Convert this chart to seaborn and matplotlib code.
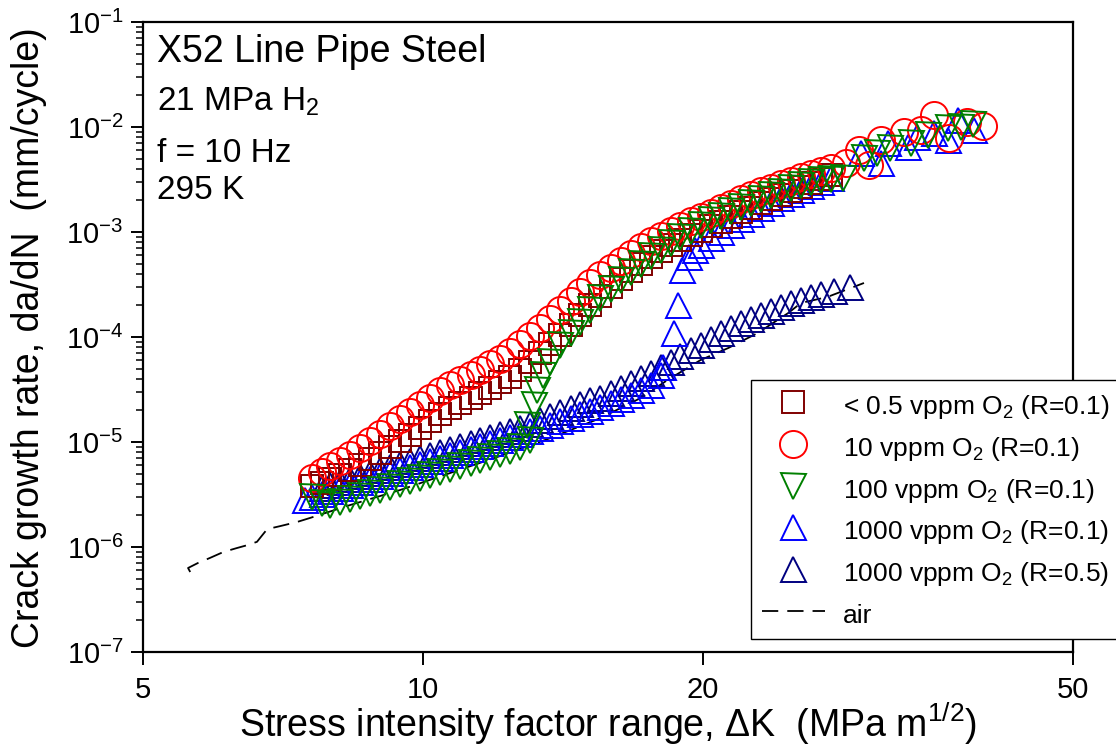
import matplotlib
matplotlib.use('Agg')
import matplotlib.pyplot as plt
import seaborn as sns
from matplotlib.ticker import FixedLocator, FixedFormatter, NullLocator, NullFormatter, LogLocator

# ---- data (dK in MPa m^1/2, da/dN in mm/cycle) ----
dk_05 = [7.60, 7.79, 7.95, 8.15, 8.35, 8.56, 8.78, 9.00, 9.22, 9.45, 9.69, 9.93, 10.18, 10.44, 10.70,
         10.97, 11.25, 11.53, 11.82, 12.11, 12.42, 12.73, 13.05, 13.37, 13.71, 14.05, 14.41, 14.77,
         15.14, 15.52, 15.91, 16.31, 16.72, 17.14, 17.57, 18.01, 18.46, 18.92, 19.40, 19.89, 20.39,
         20.90, 21.42, 21.96, 22.51, 23.07, 23.65, 24.25, 24.86, 25.48, 26.12, 26.78, 27.45]
da_05 = [3.81e-6, 4.07e-6, 4.45e-6, 4.85e-6, 5.41e-6, 6.04e-6, 6.89e-6, 7.85e-6, 8.96e-6, 1.02e-5,
         1.17e-5, 1.36e-5, 1.58e-5, 1.85e-5, 2.11e-5, 2.35e-5, 2.62e-5, 2.93e-5, 3.27e-5, 3.73e-5,
         4.16e-5, 4.85e-5, 5.78e-5, 7.05e-5, 8.57e-5, 1.04e-4, 1.30e-4, 1.62e-4, 2.02e-4, 2.46e-4,
         2.99e-4, 3.56e-4, 4.25e-4, 4.96e-4, 5.78e-4, 6.59e-4, 7.52e-4, 8.39e-4, 9.36e-4, 1.02e-3,
         1.14e-3, 1.25e-3, 1.39e-3, 1.55e-3, 1.69e-3, 1.89e-3, 2.06e-3, 2.25e-3, 2.45e-3, 2.68e-3,
         2.93e-3, 3.20e-3, 3.49e-3]

dk_10 = [7.60, 7.79, 7.95, 8.15, 8.35, 8.56, 8.78, 9.00, 9.22, 9.45, 9.69, 9.93, 10.18, 10.44, 10.70,
         10.97, 11.25, 11.53, 11.82, 12.11, 12.42, 12.73, 13.05, 13.37, 13.71, 14.05, 14.41, 14.77,
         15.14, 15.52, 15.91, 16.31, 16.72, 17.14, 17.57, 18.01, 18.46, 18.92, 19.40, 19.89, 20.39,
         20.90, 21.42, 21.96, 22.51, 23.07, 23.65, 24.25, 24.86, 25.48, 26.12, 26.78, 27.45,
         28.5, 29.4, 30.2, 31.1, 32.9, 34.3, 35.4, 36.8, 38.5, 40.0]
da_10 = [4.54e-6, 5.18e-6, 5.91e-6, 6.59e-6, 7.52e-6, 8.77e-6, 1.02e-5, 1.19e-5, 1.42e-5, 1.66e-5,
         1.93e-5, 2.25e-5, 2.62e-5, 3.06e-5, 3.49e-5, 3.89e-5, 4.35e-5, 4.85e-5, 5.53e-5, 6.17e-5,
         7.19e-5, 8.57e-5, 1.02e-4, 1.22e-4, 1.48e-4, 1.81e-4, 2.20e-4, 2.68e-4, 3.27e-4, 3.89e-4,
         4.54e-4, 5.29e-4, 6.17e-4, 7.19e-4, 8.20e-4, 9.16e-4, 1.02e-3, 1.14e-3, 1.27e-3, 1.39e-3,
         1.52e-3, 1.69e-3, 1.85e-3, 2.06e-3, 2.25e-3, 2.45e-3, 2.62e-3, 2.86e-3, 3.06e-3, 3.34e-3,
         3.57e-3, 3.81e-3, 4.07e-3,
         4.54e-3, 6.04e-3, 4.35e-3, 7.52e-3, 8.96e-3, 9.36e-3, 1.30e-2, 7.86e-3, 1.12e-2, 1.02e-2]

dk_100 = [7.60, 7.79, 7.95, 8.15, 8.35, 8.56, 8.78, 9.00, 9.22, 9.45, 9.69, 9.93, 10.18, 10.44, 10.70,
          10.97, 11.25, 11.53, 11.82, 12.11, 12.42, 12.73,
          12.95, 13.05, 13.15, 13.27, 13.47, 13.71, 14.05, 14.41, 14.77, 15.14, 15.52, 15.91, 16.31,
          16.72, 17.14, 17.57, 18.01, 18.46, 18.92, 19.40, 19.89, 20.39, 20.90, 21.42, 21.96, 22.51,
          23.07, 23.65, 24.25, 24.86, 25.48, 26.12, 26.78, 27.45, 28.3,
          29.8, 30.8, 31.8, 33.5, 34.9, 36.7, 37.9, 39.0]
da_100 = [2.99e-6, 2.62e-6, 2.51e-6, 2.68e-6, 2.86e-6, 3.06e-6, 3.27e-6, 3.49e-6, 3.73e-6, 3.98e-6,
          4.25e-6, 4.54e-6, 4.85e-6, 5.18e-6, 5.53e-6, 5.91e-6, 6.31e-6, 6.74e-6, 7.19e-6, 7.69e-6,
          8.20e-6, 8.96e-6,
          1.45e-5, 1.04e-5, 2.25e-5, 3.13e-5, 4.35e-5, 5.78e-5, 8.39e-5, 1.09e-4, 1.39e-4, 1.81e-4,
          2.35e-4, 2.86e-4, 3.49e-4, 4.16e-4, 4.96e-4, 5.91e-4, 6.74e-4, 7.86e-4, 8.96e-4, 1.02e-3,
          1.17e-3, 1.30e-3, 1.42e-3, 1.58e-3, 1.73e-3, 1.89e-3, 2.06e-3, 2.25e-3, 2.40e-3, 2.62e-3,
          2.81e-3, 2.99e-3, 3.13e-3, 3.20e-3, 3.27e-3,
          5.07e-3, 5.65e-3, 6.31e-3, 7.04e-3, 8.39e-3, 9.77e-3, 1.00e-2, 1.07e-2]

dk_1000 = [7.47, 7.60, 7.79, 7.95, 8.15, 8.35, 8.56, 8.78, 9.00, 9.22, 9.45, 9.69, 9.93, 10.18, 10.44,
           10.70, 10.97, 11.25, 11.53, 11.82, 12.11, 12.42, 12.73, 13.05, 13.37, 13.71, 14.05, 14.41,
           14.77, 15.14, 15.52, 15.91, 16.31, 16.72, 17.14, 17.57,
           18.01, 18.1, 18.6, 18.8, 19.0, 19.3, 19.6, 19.89, 20.39, 20.90, 21.42, 21.96, 22.51, 23.07,
           23.65, 24.25, 24.86, 25.48, 26.12, 26.78, 27.45,
           29.6, 31.1, 31.6, 33.2, 34.0, 35.4, 36.7, 37.6, 39.1]
da_1000 = [2.81e-6, 2.99e-6, 3.20e-6, 3.41e-6, 3.65e-6, 3.89e-6, 4.16e-6, 4.45e-6, 4.75e-6, 5.07e-6,
           5.41e-6, 5.78e-6, 6.17e-6, 6.59e-6, 7.05e-6, 7.52e-6, 8.03e-6, 8.57e-6, 9.16e-6, 9.78e-6,
           1.04e-5, 1.12e-5, 1.19e-5, 1.27e-5, 1.36e-5, 1.45e-5, 1.58e-5, 1.69e-5, 1.85e-5, 1.97e-5,
           2.16e-5, 2.35e-5, 2.57e-5, 2.81e-5, 3.13e-5, 3.49e-5,
           4.35e-5, 5.18e-5, 1.09e-4, 2.02e-4, 4.35e-4, 5.78e-4, 6.74e-4, 7.52e-4, 8.77e-4, 1.00e-3,
           1.17e-3, 1.33e-3, 1.48e-3, 1.69e-3, 1.89e-3, 2.11e-3, 2.30e-3, 2.51e-3, 2.74e-3, 2.99e-3,
           3.27e-3,
           5.65e-3, 4.54e-3, 7.04e-3, 6.45e-3, 8.03e-3, 8.77e-3, 7.52e-3, 1.17e-2, 9.36e-3]

dk_1000r5 = [7.79, 7.95, 8.15, 8.35, 8.56, 8.78, 9.00, 9.22, 9.45, 9.69, 9.93, 10.18, 10.44, 10.70,
             10.97, 11.25, 11.53, 11.82, 12.11, 12.42, 12.73, 13.05, 13.37, 13.71, 14.05, 14.41, 14.77,
             15.14, 15.52, 15.91, 16.31, 16.72, 17.14, 17.57, 18.01, 18.46, 18.92, 19.40, 19.89, 20.39,
             20.90, 21.42, 21.96, 22.51, 23.07, 23.65, 24.25, 24.86, 25.48, 26.12, 26.78, 27.7, 28.8]
da_1000r5 = [3.65e-6, 3.89e-6, 4.16e-6, 4.45e-6, 4.75e-6, 5.07e-6, 5.41e-6, 5.78e-6, 6.17e-6, 6.59e-6,
             7.05e-6, 7.52e-6, 8.03e-6, 8.57e-6, 9.16e-6, 9.78e-6, 1.04e-5, 1.12e-5, 1.19e-5, 1.27e-5,
             1.36e-5, 1.48e-5, 1.62e-5, 1.77e-5, 1.93e-5, 2.11e-5, 2.30e-5, 2.51e-5, 2.62e-5, 2.93e-5,
             3.27e-5, 3.65e-5, 4.07e-5, 4.54e-5, 5.18e-5, 5.78e-5, 6.59e-5, 7.52e-5, 8.39e-5, 9.57e-5,
             1.09e-4, 1.22e-4, 1.36e-4, 1.48e-4, 1.62e-4, 1.77e-4, 1.93e-4, 2.11e-4, 2.25e-4, 2.40e-4,
             2.57e-4, 2.74e-4, 2.99e-4]

dk_air = [5.62, 5.59, 5.73, 5.90, 6.10, 6.31, 6.47, 6.63, 6.72, 6.80, 7.02, 7.32, 7.56, 8.35, 9.45,
          10.70, 12.11, 13.71, 15.52, 17.14, 18.32, 19.89, 21.3, 22.9, 24.7, 25.5, 27.2, 29.8]
da_air = [5.78e-7, 6.31e-7, 7.05e-7, 7.86e-7, 8.96e-7, 9.78e-7, 1.04e-6, 1.12e-6, 1.30e-6, 1.48e-6,
          1.58e-6, 1.73e-6, 1.89e-6, 2.51e-6, 3.49e-6, 5.07e-6, 7.36e-6, 1.09e-5, 1.69e-5, 2.62e-5,
          3.89e-5, 6.04e-5, 7.86e-5, 1.09e-4, 1.69e-4, 2.11e-4, 2.40e-4, 3.27e-4]

labels = ['< 0.5 vppm O$_2$ (R=0.1)', '10 vppm O$_2$ (R=0.1)', '100 vppm O$_2$ (R=0.1)',
          '1000 vppm O$_2$ (R=0.1)', '1000 vppm O$_2$ (R=0.5)', 'air']

sns.set_style('ticks')
plt.rcParams['font.family'] = ['Liberation Sans', 'DejaVu Sans']
plt.rcParams['mathtext.fontset'] = 'custom'
plt.rcParams['mathtext.rm'] = 'Liberation Sans'
plt.rcParams['mathtext.it'] = 'Liberation Sans:italic'
plt.rcParams['mathtext.bf'] = 'Liberation Sans:bold'
plt.rcParams['mathtext.default'] = 'regular'
for key in ['text.color', 'axes.labelcolor', 'xtick.color', 'ytick.color', 'axes.edgecolor']:
    plt.rcParams[key] = 'black'

fig = plt.figure(figsize=(11.16, 7.5), dpi=100)
ax = fig.add_axes([143 / 1116, 98 / 750, 930 / 1116, 630 / 750])


def markers(k, da, mk, col, ms, lab, z):
    sns.lineplot(x=k, y=da, ax=ax, estimator=None, sort=False, linestyle='none',
                 marker=mk, markersize=ms, markerfacecolor='none', markeredgecolor=col,
                 markeredgewidth=1.4, color=col, label=lab, zorder=z)


sns.lineplot(x=dk_air, y=da_air, ax=ax, estimator=None, sort=False, color='black',
             linewidth=1.3, linestyle=(0, (9, 5)), label=labels[5], zorder=2)
markers(dk_1000r5, da_1000r5, '^', '#000080', 18, labels[4], 3)
markers(dk_1000, da_1000, '^', '#0000ff', 18, labels[3], 4)
markers(dk_05, da_05, 's', '#800000', 16, labels[0], 5)
markers(dk_10, da_10, 'o', '#ff0000', 19.5, labels[1], 6)
markers(dk_100, da_100, 'v', '#008000', 18, labels[2], 7)

ax.set_xscale('log')
ax.set_yscale('log')
ax.set_xlim(5, 50)
ax.set_ylim(1e-7, 1e-1)
ax.xaxis.set_major_locator(FixedLocator([5, 10, 20, 50]))
ax.xaxis.set_major_formatter(FixedFormatter(['5', '10', '20', '50']))
ax.xaxis.set_minor_locator(NullLocator())
ax.yaxis.set_major_locator(LogLocator(base=10, numticks=10))
ax.yaxis.set_minor_locator(LogLocator(base=10, subs=range(2, 10), numticks=20))
ax.yaxis.set_minor_formatter(NullFormatter())
ax.tick_params(axis='x', which='major', direction='out', length=9, width=1.4, labelsize=21, pad=8)
ax.tick_params(axis='y', which='major', direction='out', length=9, width=1.4, labelsize=21, pad=5)
ax.tick_params(axis='y', which='minor', direction='out', length=5, width=1.1)
for sp in ax.spines.values():
    sp.set_linewidth(1.6)
    sp.set_color('black')
ax.set_xlabel('')
ax.set_ylabel('')

fig.text(608 / 1116, 1 - 724 / 750, 'Stress intensity factor range, \u0394K  (MPa m$^{1/2}$)',
         fontsize=27, ha='center', va='center')
fig.text(29 / 1116, 1 - 338 / 750, 'Crack growth rate, da/dN  (mm/cycle)',
         fontsize=27, ha='center', va='center', rotation=90)

notes = ['X52 Line Pipe Steel', '21 MPa H$_2$', 'f = 10 Hz', '295 K']
note_y = [62, 111, 162, 199]
note_size = [27, 24, 24, 24]
for txt, yb, fs in zip(notes, note_y, note_size):
    fig.text(157 / 1116, 1 - yb / 750, txt, fontsize=fs, ha='left', va='baseline')

h, l = ax.get_legend_handles_labels()
order = [l.index(s) for s in labels]
leg = ax.legend([h[i] for i in order], [l[i] for i in order], loc='upper left',
                bbox_to_anchor=(751 / 1116, 1 - 380 / 750), bbox_transform=fig.transFigure,
                fontsize=19, frameon=True, fancybox=False, framealpha=1, edgecolor='black',
                borderpad=0.4, labelspacing=0.42, handlelength=2.4, handleheight=1.35,
                handletextpad=0.7, borderaxespad=0)
leg.get_frame().set_linewidth(1.0)

fig.savefig('out.png', dpi=100)
